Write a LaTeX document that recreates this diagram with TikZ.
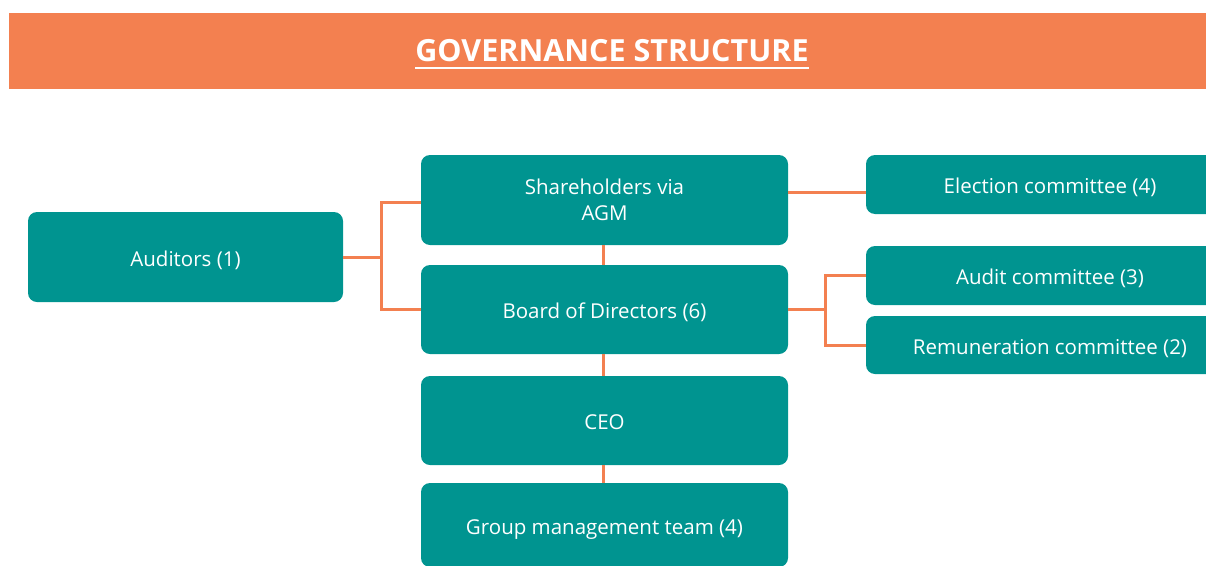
\documentclass[tikz,border=0pt]{standalone}
\usepackage{fontspec}
\setmainfont{Open Sans}
\definecolor{tealbox}{HTML}{009490}
\definecolor{orng}{HTML}{F38050}
\begin{document}
\begin{tikzpicture}[x=1pt,y=-1pt,
  box/.style={fill=tealbox, rounded corners=9pt, text=white, inner sep=0pt, align=center,
    font=\fontsize{20.5}{26}\selectfont},
  oneline/.style={text height=19pt, text depth=1pt},
  link/.style={draw=orng, line width=3pt}]
\useasboundingbox (0,0) rectangle (1206,565);
\clip (0,0) rectangle (1206,565);
\fill[orng] (9,13) rectangle (1220,89);
\node[inner sep=0pt, text=white, font=\bfseries\fontsize{30.5}{34}\selectfont] (title) at (612,51) {GOVERNANCE STRUCTURE};
\draw[white, line width=2pt] ([yshift=-6.5pt]title.base west) -- ([yshift=-6.5pt]title.base east);

\node[box, oneline, minimum width=315pt, minimum height=90pt] (aud) at (185.5,257) {Auditors (1)};
\node[box, minimum width=367pt, minimum height=90pt] (sh) at (604.5,200) {Shareholders via\\AGM};
\node[box, oneline, minimum width=367pt, minimum height=89pt] (bd) at (604.5,309.5) {Board of Directors (6)};
\node[box, oneline, minimum width=367pt, minimum height=89pt] (ceo) at (604.5,420.5) {CEO};
\node[box, oneline, minimum width=367pt, minimum height=84pt] (gm) at (604.5,525) {Group management team (4)};
\node[box, oneline, minimum width=368pt, minimum height=59pt] (el) at (1050,184.5) {Election committee (4)};
\node[box, oneline, minimum width=368pt, minimum height=59pt] (ac) at (1050,275.5) {Audit committee (3)};
\node[box, oneline, minimum width=368pt, minimum height=58pt] (rc) at (1050,345) {Remuneration committee (2)};

\coordinate (lj) at (381,257);
\coordinate (rj) at (825,309.5);
\draw[link] (aud.east) -- (lj);
\draw[link] (lj) |- (sh.west |- 0,202);
\draw[link] (lj) |- (bd.west);
\draw[link] (sh.south -| 603,0) -- (bd.north -| 603,0);
\draw[link] (bd.south -| 603,0) -- (ceo.north -| 603,0);
\draw[link] (ceo.south -| 603,0) -- (gm.north -| 603,0);
\draw[link] (sh.east |- 0,192) -- (el.west |- 0,192);
\draw[link] (bd.east) -- (rj);
\draw[link] (rj) |- (ac.west);
\draw[link] (rj) |- (rc.west);
\end{tikzpicture}
\end{document}
